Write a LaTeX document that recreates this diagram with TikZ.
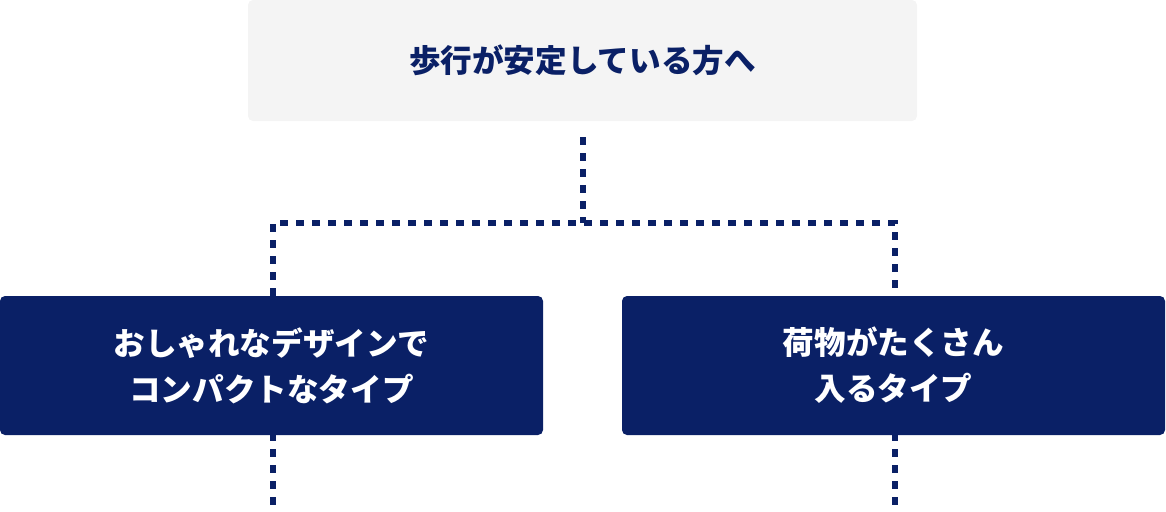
\documentclass[tikz,border=0pt]{standalone}
\usepackage{fontspec}
\newfontfamily\jp{Noto Sans CJK JP}
\definecolor{navy}{HTML}{0A2066}
\definecolor{pale}{HTML}{F4F4F4}
\begin{document}
\begin{tikzpicture}[x=1pt,y=-1pt,
  topbox/.style={fill=pale,rounded corners=5pt,minimum width=669pt,minimum height=121pt,inner sep=0pt,
    text=navy,font=\jp\bfseries\fontsize{31.6}{46}\selectfont},
  navybox/.style={fill=navy,rounded corners=5pt,minimum width=543pt,minimum height=139pt,inner sep=0pt,
    text=white,align=center,font=\jp\bfseries\fontsize{31.6}{46}\selectfont},
  dotline/.style={draw=navy,line width=6pt,dash pattern=on 8pt off 8pt}]
\useasboundingbox (0,0) rectangle (1166,511);
\node[topbox] (top) at (582.5,60.5) {歩行が安定している方へ};
\node[navybox] (L) at (271.5,365.5) {おしゃれなデザインで\\コンパクトなタイプ};
\node[navybox] (R) at (893.5,365.5) {荷物がたくさん\\入るタイプ};
\coordinate (jc) at (583,223);
\coordinate (jl) at (273,223);
\coordinate (jr) at (895,223);
\coordinate (bl) at (273,511);
\coordinate (br) at (895,511);
\draw[dotline,shorten <=16pt] (jc |- top.south) -- (jc);
\draw[dotline] (jl |- L.north) -- (jl) -- (jr) -- (jr |- R.north);
\draw[dotline,dash phase=2pt] (jl |- L.south) -- (bl);
\draw[dotline,dash phase=2pt] (jr |- R.south) -- (br);
\end{tikzpicture}
\end{document}
